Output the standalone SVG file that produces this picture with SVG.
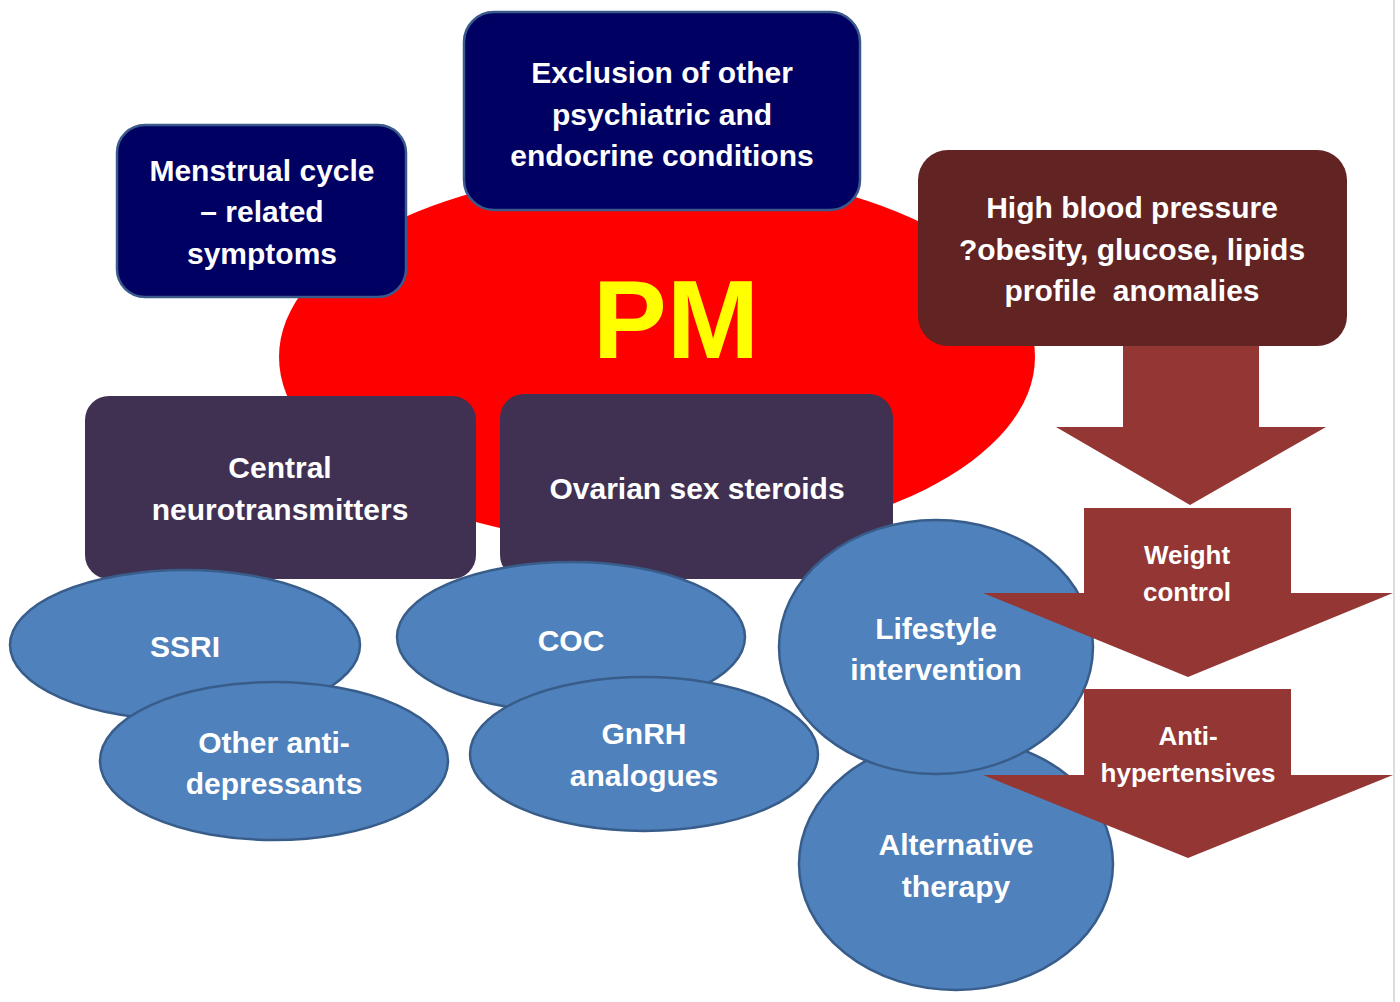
<svg xmlns="http://www.w3.org/2000/svg" width="1400" height="1002" viewBox="0 0 1400 1002">
<style>
.t{font-family:"Liberation Sans",Arial,sans-serif;font-weight:bold;fill:#ffffff;text-anchor:middle;font-size:30px}
.s{font-size:26px}
.navy{fill:#000062;stroke:#3b5a8c;stroke-width:2.5}
.plum{fill:#403152}
.maroon{fill:#622323}
.arr{fill:#943634}
.ell{fill:#4f81bd;stroke:#385d8a;stroke-width:2.5}
</style>
<rect width="1400" height="1002" fill="#ffffff"/>
<rect x="1393" y="0" width="2" height="1002" fill="#dcdcdc"/>
<g id="pm">
<ellipse cx="657" cy="357" rx="378" ry="188" fill="#ff0000"/>
<text x="676" y="358" style="font-family:'Liberation Sans',Arial,sans-serif;font-weight:bold;font-size:111px;fill:#ffff00;text-anchor:middle">PM</text>
</g>
<g id="menstrual">
<rect class="navy" x="117" y="125" width="289" height="172" rx="28"/>
<text class="t" x="262" y="181">Menstrual cycle</text>
<text class="t" x="262" y="222">– related</text>
<text class="t" x="262" y="264">symptoms</text>
</g>
<g id="exclusion">
<rect class="navy" x="464" y="12" width="396" height="198" rx="30"/>
<text class="t" x="662" y="83">Exclusion of other</text>
<text class="t" x="662" y="125">psychiatric and</text>
<text class="t" x="662" y="166">endocrine conditions</text>
</g>
<g id="connectors">
<polygon class="arr" points="1123,346 1259,346 1259,427 1326,427 1190,505 1056,427 1123,427"/>
</g>
<g id="hbp">
<rect class="maroon" x="918" y="150" width="429" height="196" rx="30"/>
<text class="t" x="1132" y="218">High blood pressure</text>
<text class="t" x="1132" y="260">?obesity, glucose, lipids</text>
<text class="t" x="1132" y="301" xml:space="preserve">profile  anomalies</text>
</g>
<g id="central">
<rect class="plum" x="85" y="396" width="391" height="183" rx="24"/>
<text class="t" x="280" y="478">Central</text>
<text class="t" x="280" y="520">neurotransmitters</text>
</g>
<g id="ovarian">
<rect class="plum" x="500" y="394" width="393" height="185" rx="24"/>
<text class="t" x="697" y="499">Ovarian sex steroids</text>
</g>
<g id="ssri">
<ellipse class="ell" cx="185" cy="645" rx="175" ry="75"/>
<text class="t" x="185" y="657">SSRI</text>
</g>
<g id="other">
<ellipse class="ell" cx="274" cy="761" rx="174" ry="79"/>
<text class="t" x="274" y="753">Other anti-</text>
<text class="t" x="274" y="794">depressants</text>
</g>
<g id="coc">
<ellipse class="ell" cx="571" cy="637" rx="174" ry="75"/>
<text class="t" x="571" y="651">COC</text>
</g>
<g id="gnrh">
<ellipse class="ell" cx="644" cy="754" rx="174" ry="77"/>
<text class="t" x="644" y="744">GnRH</text>
<text class="t" x="644" y="786">analogues</text>
</g>
<g id="alternative">
<ellipse class="ell" cx="956" cy="864" rx="157" ry="126"/>
<text class="t" x="956" y="855">Alternative</text>
<text class="t" x="956" y="897">therapy</text>
</g>
<g id="lifestyle">
<ellipse class="ell" cx="936" cy="647" rx="157" ry="127"/>
<text class="t" x="936" y="639">Lifestyle</text>
<text class="t" x="936" y="680">intervention</text>
</g>
<g id="weight">
<polygon class="arr" points="1084,508 1291,508 1291,593 1393,593 1188,677 983,593 1084,593"/>
<text class="t s" x="1187" y="564">Weight</text>
<text class="t s" x="1187" y="601">control</text>
</g>
<g id="antihyp">
<polygon class="arr" points="1084,689 1291,689 1291,775 1393,775 1188,858 983,775 1084,775"/>
<text class="t s" x="1188" y="745">Anti-</text>
<text class="t s" x="1188" y="782">hypertensives</text>
</g>
</svg>
